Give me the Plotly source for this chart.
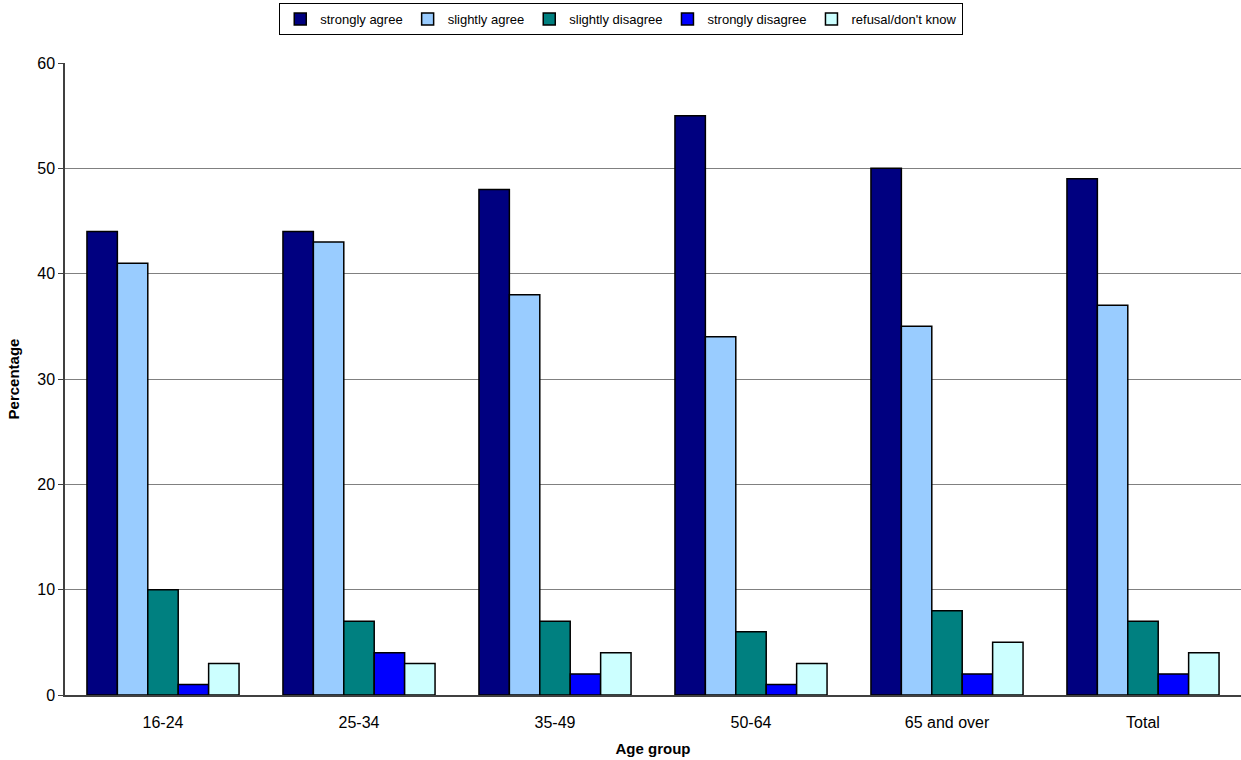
import plotly.graph_objects as go

age_groups = ["16-24", "25-34", "35-49", "50-64", "65 and over", "Total"]

strongly_agree = [44, 44, 48, 55, 50, 49]
slightly_agree = [41, 43, 38, 34, 35, 37]
slightly_disagree = [10, 7, 7, 6, 8, 7]
strongly_disagree = [1, 4, 2, 1, 2, 2]
refusal_dont_know = [3, 3, 4, 3, 5, 4]

series = [
    ("strongly agree", strongly_agree, "#000080"),
    ("slightly agree", slightly_agree, "#99CCFF"),
    ("slightly disagree", slightly_disagree, "#008080"),
    ("strongly disagree", strongly_disagree, "#0000FF"),
    ("refusal/don't know", refusal_dont_know, "#CCFFFF"),
]

fig = go.Figure()
for name, vals, color in series:
    fig.add_trace(go.Bar(
        name=name,
        x=age_groups,
        y=vals,
        marker=dict(color=color, line=dict(color="black", width=1.5)),
    ))

font = "Arial, Liberation Sans, sans-serif"

fig.update_layout(
    width=1241,
    height=760,
    barmode="group",
    bargap=0.224,
    bargroupgap=0,
    plot_bgcolor="white",
    paper_bgcolor="white",
    font=dict(family=font, size=12, color="black"),
    margin=dict(l=65, r=0, t=63, b=65),
    legend=dict(
        orientation="h",
        x=0.473, xanchor="center",
        y=0.996, yanchor="top",
        yref="container",
        bordercolor="black",
        borderwidth=1,
        bgcolor="white",
        font=dict(size=13),
        itemwidth=30,
        tracegroupgap=0,
    ),
    xaxis=dict(
        title=dict(text="<b>Age group</b>", font=dict(size=15), standoff=14),
        showline=True,
        linecolor="#404040",
        linewidth=1.5,
        ticks="outside",
        ticklen=12,
        tickcolor="rgba(0,0,0,0)",
        showgrid=False,
        tickfont=dict(size=16),
    ),
    yaxis=dict(
        title=dict(text="<b>Percentage</b>", font=dict(size=15), standoff=14),
        range=[0, 60],
        dtick=10,
        showline=True,
        linecolor="#404040",
        linewidth=1.5,
        ticks="outside",
        ticklen=5,
        tickcolor="#404040",
        showgrid=True,
        gridcolor="#808080",
        gridwidth=1,
        zeroline=False,
        tickfont=dict(size=16),
    ),
)

fig.write_html("out.html")
